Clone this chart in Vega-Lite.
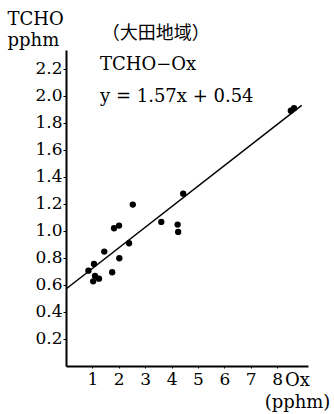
{
  "$schema": "https://vega.github.io/schema/vega-lite/v6.json",
  "width": 242,
  "height": 316,
  "autosize": "none",
  "padding": {"left": 66, "top": 50, "right": 26, "bottom": 48},
  "background": "white",
  "config": {"view": {"stroke": null}},
  "datasets": {
    "points": [
      {"ox": 0.85, "tcho": 0.706},
      {"ox": 1.06, "tcho": 0.756},
      {"ox": 1.10, "tcho": 0.667},
      {"ox": 1.03, "tcho": 0.627},
      {"ox": 1.25, "tcho": 0.647},
      {"ox": 1.45, "tcho": 0.847},
      {"ox": 1.75, "tcho": 0.694},
      {"ox": 1.82, "tcho": 1.02},
      {"ox": 2.01, "tcho": 1.04},
      {"ox": 2.02, "tcho": 0.798},
      {"ox": 2.39, "tcho": 0.909},
      {"ox": 2.53, "tcho": 1.195},
      {"ox": 3.61, "tcho": 1.067},
      {"ox": 4.23, "tcho": 1.047},
      {"ox": 4.25, "tcho": 0.993},
      {"ox": 4.44, "tcho": 1.276},
      {"ox": 8.52, "tcho": 1.891},
      {"ox": 8.64, "tcho": 1.909}
    ],
    "fit": [
      {"ox": 0, "tcho": 0.57},
      {"ox": 8.93, "tcho": 1.93}
    ],
    "labels": [
      {"ox": 1.29, "tcho": 2.23, "label": "TCHO−Ox"},
      {"ox": 1.29, "tcho": 1.99, "label": "y = 1.57x + 0.54"}
    ],
    "region": [
      {"ox": 1.35, "tcho": 2.46, "label": "（大田地域）"}
    ]
  },
  "encoding": {
    "x": {
      "field": "ox", "type": "quantitative",
      "scale": {"domain": [0, 9.17], "nice": false, "zero": false},
      "axis": {
        "values": [1, 2, 3, 4, 5, 6, 7, 8],
        "labelExpr": "datum.value",
        "grid": false,
        "labelOverlap": false,
        "domainColor": "black",
        "domainWidth": 2,
        "tickColor": "black",
        "tickSize": 2,
        "labelFont": "DejaVu Serif",
        "labelFontSize": 17,
        "labelColor": "black",
        "labelPadding": 3,
        "title": ["Ox", "(pphm)"],
        "titleFont": "DejaVu Serif",
        "titleFontSize": 18,
        "titleFontWeight": "normal",
        "titleColor": "black",
        "titleAlign": "center",
        "titleBaseline": "alphabetic",
        "titleAnchor": null,
        "titleX": 231,
        "titleY": 19,
        "titleLineHeight": 22
      }
    },
    "y": {
      "field": "tcho", "type": "quantitative",
      "scale": {"domain": [0, 2.34], "nice": false, "zero": false},
      "axis": {
        "values": [0.2, 0.4, 0.6, 0.8, 1.0, 1.2, 1.4, 1.6, 1.8, 2.0, 2.2],
        "labelExpr": "format(datum.value, '.1f')",
        "grid": false,
        "labelOverlap": false,
        "domainColor": "black",
        "domainWidth": 2,
        "tickColor": "black",
        "tickSize": 3,
        "labelFont": "DejaVu Serif",
        "labelFontSize": 17,
        "labelColor": "black",
        "labelPadding": 1,
        "title": ["TCHO", "pphm"],
        "titleFont": "DejaVu Serif",
        "titleFontSize": 18,
        "titleFontWeight": "normal",
        "titleColor": "black",
        "titleAngle": 0,
        "titleAlign": "left",
        "titleBaseline": "alphabetic",
        "titleAnchor": null,
        "titleX": -59,
        "titleY": -26,
        "titleLineHeight": 21
      }
    }
  },
  "layer": [
    {
      "data": {"name": "fit"},
      "mark": {"type": "line", "color": "black", "strokeWidth": 1.5}
    },
    {
      "data": {"name": "points"},
      "mark": {"type": "circle", "color": "black", "opacity": 1, "size": 40}
    },
    {
      "data": {"name": "labels"},
      "mark": {"type": "text", "font": "DejaVu Serif", "fontSize": 18, "align": "left", "baseline": "middle", "color": "black"},
      "encoding": {"text": {"field": "label"}}
    },
    {
      "data": {"name": "region"},
      "mark": {"type": "text", "font": "Noto Sans CJK JP", "fontSize": 18, "align": "left", "baseline": "middle", "color": "black"},
      "encoding": {"text": {"field": "label"}}
    }
  ]
}
